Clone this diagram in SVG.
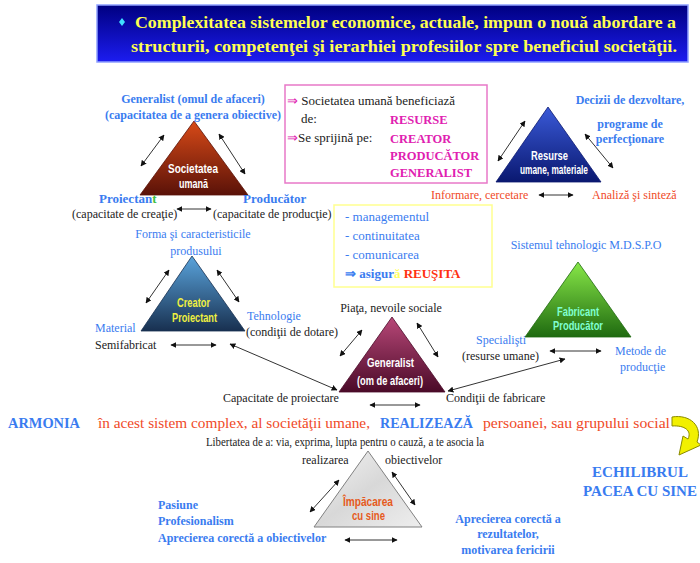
<svg xmlns="http://www.w3.org/2000/svg" width="700" height="563" viewBox="0 0 700 563">
<defs>
<marker id="ah" viewBox="0 0 10 10" refX="9" refY="5" markerWidth="6" markerHeight="6" orient="auto-start-reverse" markerUnits="userSpaceOnUse"><path d="M0,0 L10,5 L0,10 Z" fill="#111"/></marker>
<linearGradient id="gTitle" x1="0" y1="0" x2="0" y2="1"><stop offset="0" stop-color="#000080"/><stop offset="1" stop-color="#1c1cf0"/></linearGradient>
<linearGradient id="g1" x1="0" y1="0" x2="0" y2="1"><stop offset="0" stop-color="#d84a18"/><stop offset="1" stop-color="#5a1208"/></linearGradient>
<linearGradient id="g2" x1="0" y1="0" x2="0" y2="1"><stop offset="0" stop-color="#3a5ad8"/><stop offset="1" stop-color="#0a1870"/></linearGradient>
<linearGradient id="g3" x1="0" y1="0" x2="0" y2="1"><stop offset="0" stop-color="#5aa4dc"/><stop offset="1" stop-color="#183050"/></linearGradient>
<linearGradient id="g4" x1="0" y1="0" x2="0" y2="1"><stop offset="0" stop-color="#b84878"/><stop offset="1" stop-color="#4a0a28"/></linearGradient>
<linearGradient id="g5" x1="0" y1="0" x2="0" y2="1"><stop offset="0" stop-color="#88e848"/><stop offset="1" stop-color="#1f6a10"/></linearGradient>
<linearGradient id="g6" x1="0" y1="0" x2="1" y2="1"><stop offset="0" stop-color="#f4f4f4"/><stop offset="0.5" stop-color="#d8d8d8"/><stop offset="1" stop-color="#eeeeee"/></linearGradient>
<style>
.s{font-family:"Liberation Serif","Times New Roman",serif;}
.b{font-weight:bold;}
.blue{fill:#3a7cf0;}
.blk{fill:#222;}
.red{fill:#f04a28;}
.mag{fill:#e020b0;}
.tri{font-family:"Liberation Sans","Arial",sans-serif;font-weight:bold;font-size:13px;}
.c{stroke:#333;stroke-width:1;fill:none;marker-start:url(#ah);marker-end:url(#ah);}
.m{text-anchor:middle;}
</style>
</defs>
<rect width="700" height="563" fill="#ffffff"/>

<g id="title">
<rect x="97" y="5" width="591" height="57" fill="url(#gTitle)" stroke="#8fa0ff" stroke-width="1.5"/>
<path d="M122,18 L125,22 L122,26 L119,22 Z" fill="#40e0ff"/>
<text class="s b" x="135" y="28" font-size="17" fill="#ffff50" textLength="541" lengthAdjust="spacingAndGlyphs">Complexitatea sistemelor economice, actuale, impun o nouă abordare a</text>
<text class="s b" x="131" y="52" font-size="17" fill="#ffff50" textLength="546" lengthAdjust="spacingAndGlyphs">structurii, competenţei şi ierarhiei profesiilor spre beneficiul societăţii.</text>
</g>

<g id="connectors">
<line class="c" x1="164" y1="135" x2="141" y2="166"/>
<line class="c" x1="219" y1="134" x2="245" y2="174"/>
<line class="c" x1="177" y1="209" x2="211" y2="209"/>
<line class="c" x1="525" y1="121" x2="498" y2="161"/>
<line class="c" x1="585" y1="134" x2="613" y2="168"/>
<line class="c" x1="539" y1="195" x2="573" y2="195"/>
<line class="c" x1="169" y1="270" x2="146" y2="303"/>
<line class="c" x1="217" y1="270" x2="239" y2="302"/>
<line class="c" x1="171" y1="345" x2="216" y2="345"/>
<line class="c" x1="362" y1="330" x2="340" y2="356"/>
<line class="c" x1="417" y1="323" x2="438" y2="357"/>
<line class="c" x1="370" y1="405" x2="420" y2="405"/>
<line class="c" x1="337" y1="390" x2="230" y2="344"/>
<line class="c" x1="448" y1="391" x2="565" y2="359"/>
<line class="c" x1="550" y1="351" x2="601" y2="351"/>
<line class="c" x1="339" y1="480" x2="310" y2="512"/>
<line class="c" x1="392" y1="472" x2="415" y2="505"/>
<line class="c" x1="345" y1="540" x2="397" y2="540"/>
<path d="M672,417 C690,414 703,426 697,442 L701,445 L679,455 L683,436 L688,439 C692,431 685,425 672,426 Z" fill="#f2f000" stroke="#8a8a00" stroke-width="1"/>
</g>

<g id="n-societatea">
<polygon points="194,121 140,195 248,195" fill="url(#g1)" stroke="#5a1208" stroke-width="0.8"/>
<text class="tri" x="168" y="173" fill="#ffffff" textLength="50" lengthAdjust="spacingAndGlyphs">Societatea</text>
<text class="tri" x="179" y="188" fill="#ffffff" textLength="29" lengthAdjust="spacingAndGlyphs">umană</text>
<text class="s b blue m" x="193" y="103" font-size="12">Generalist (omul de afaceri)</text>
<text class="s b blue m" x="193" y="119" font-size="12">(capacitatea de a genera obiective)</text>
<text class="s b blue" x="99" y="203" font-size="13">Proiectan<tspan fill="#40c040">t</tspan></text>
<text class="s blk" x="72" y="218" font-size="12">(capacitate  de creaţie)</text>
<text class="s b blue" x="243" y="203" font-size="13">Producător</text>
<text class="s blk" x="213" y="218" font-size="12">(capacitate  de producţie)</text>
</g>

<g id="n-box-pink">
<rect x="285" y="85" width="202" height="98" fill="#ffffff" stroke="#e878c8" stroke-width="1.5"/>
<text class="s" x="287" y="105" font-size="13"><tspan class="mag">⇒</tspan><tspan class="blk"> Societatea umană  beneficiază</tspan></text>
<text class="s blk" x="301" y="123" font-size="13">de:</text>
<text class="s b mag" x="390" y="124" font-size="12.5">RESURSE</text>
<text class="s" x="287" y="142" font-size="13"><tspan class="mag">⇒</tspan><tspan class="blk">Se sprijină  pe:</tspan></text>
<text class="s b mag" x="390" y="143" font-size="12.5">CREATOR</text>
<text class="s b mag" x="390" y="160" font-size="12.5">PRODUCĂTOR</text>
<text class="s b mag" x="390" y="177" font-size="12.5">GENERALIST</text>
</g>

<g id="n-resurse">
<polygon points="548,107 496,182 601,182" fill="url(#g2)" stroke="#0a1870" stroke-width="0.8"/>
<text class="tri" x="531" y="160" fill="#ffffff" textLength="37" lengthAdjust="spacingAndGlyphs">Resurse</text>
<text class="tri" x="520" y="174" fill="#ffffff" textLength="68" lengthAdjust="spacingAndGlyphs">umane, materiale</text>
<text class="s b blue m" x="630" y="104" font-size="12">Decizii de dezvoltare,</text>
<text class="s b blue m" x="630" y="128" font-size="12">programe  de</text>
<text class="s b blue m" x="630" y="143" font-size="12">perfecţionare</text>
<text class="s red" x="431" y="199" font-size="12">Informare,  cercetare</text>
<text class="s red" x="592" y="199" font-size="12">Analiză  şi sinteză</text>
</g>

<g id="n-box-yellow">
<rect x="334" y="205" width="158" height="82" fill="#ffffff" stroke="#ffff90" stroke-width="1.5"/>
<text class="s blue" x="345" y="221" font-size="13">- managementul</text>
<text class="s blue" x="345" y="240" font-size="13">- continuitatea</text>
<text class="s blue" x="345" y="259" font-size="13">- comunicarea</text>
<text class="s b" x="345" y="278" font-size="13"><tspan class="blue">⇒  asigur</tspan><tspan fill="#ffff60">ă</tspan><tspan fill="#ff3010"> REUŞITA</tspan></text>
</g>

<g id="n-creator">
<polygon points="192,256 141,331 245,331" fill="url(#g3)" stroke="#183050" stroke-width="0.8"/>
<text class="tri" x="177" y="307" fill="#f0f040" textLength="33" lengthAdjust="spacingAndGlyphs">Creator</text>
<text class="tri" x="172" y="322" fill="#f0f040" textLength="45" lengthAdjust="spacingAndGlyphs">Proiectant</text>
<text class="s blue m" x="193" y="238" font-size="12">Forma şi caracteristicile</text>
<text class="s blue m" x="196" y="255" font-size="12">produsului</text>
<text class="s blue" x="95" y="332" font-size="12">Material</text>
<text class="s blk" x="95" y="349" font-size="12">Semifabricat</text>
<text class="s blue" x="247" y="320" font-size="12">Tehnologie</text>
<text class="s blk" x="246" y="336" font-size="12">(condiţii  de dotare)</text>
</g>

<g id="n-generalist">
<polygon points="392,317 339,392 445,392" fill="url(#g4)" stroke="#4a0a28" stroke-width="0.8"/>
<text class="tri" x="367" y="367" fill="#ffffff" textLength="47" lengthAdjust="spacingAndGlyphs">Generalist</text>
<text class="tri" x="357" y="385" fill="#ffffff" textLength="66" lengthAdjust="spacingAndGlyphs">(om de afaceri)</text>
<text class="s blk m" x="391" y="312" font-size="12">Piaţa, nevoile  sociale</text>
<text class="s blk" x="223" y="402" font-size="12">Capacitate  de proiectare</text>
<text class="s blk" x="446" y="402" font-size="12">Condiţii  de fabricare</text>
</g>

<g id="n-fabricant">
<polygon points="578,262 525,337 631,337" fill="url(#g5)" stroke="#1f6a10" stroke-width="0.8"/>
<text class="tri" x="557" y="316" fill="#80ffd0" textLength="42" lengthAdjust="spacingAndGlyphs">Fabricant</text>
<text class="tri" x="553" y="330" fill="#80ffd0" textLength="50" lengthAdjust="spacingAndGlyphs">Producător</text>
<text class="s blue m" x="586" y="249" font-size="12">Sistemul  tehnologic  M.D.S.P.O</text>
<text class="s blue" x="476" y="344" font-size="12">Specialişti</text>
<text class="s blk" x="462" y="360" font-size="12">(resurse  umane)</text>
<text class="s blue" x="615" y="355" font-size="12">Metode de</text>
<text class="s blue" x="620" y="371" font-size="12">producţie</text>
</g>

<g id="armonia">
<text class="s b blue" x="8" y="428" font-size="15" textLength="72" lengthAdjust="spacingAndGlyphs">ARMONIA</text>
<text class="s red" x="98" y="428" font-size="15" textLength="272" lengthAdjust="spacingAndGlyphs">în acest sistem complex, al societăţii umane,</text>
<text class="s b blue" x="380" y="428" font-size="15" textLength="93" lengthAdjust="spacingAndGlyphs">REALIZEAZĂ</text>
<text class="s red" x="483" y="428" font-size="15" textLength="187" lengthAdjust="spacingAndGlyphs">persoanei,  sau grupului social</text>
</g>

<g id="n-impacarea">
<polygon points="368,451 314,527 422,527" fill="url(#g6)" stroke="#808080" stroke-width="1"/>
<text class="tri" x="343" y="506" fill="#e65a20" font-size="14" textLength="50" lengthAdjust="spacingAndGlyphs">Împăcarea</text>
<text class="tri" x="352" y="520" fill="#e65a20" font-size="14" textLength="33" lengthAdjust="spacingAndGlyphs">cu sine</text>
<text class="s blk" x="206" y="446" font-size="12" textLength="278" lengthAdjust="spacingAndGlyphs">Libertatea  de a: via, exprima,  lupta pentru o cauză, a te asocia la</text>
<text class="s blk" x="302" y="464" font-size="12">realizarea</text>
<text class="s blk" x="385" y="464" font-size="12">obiectivelor</text>
<text class="s b blue" x="158" y="509" font-size="12">Pasiune</text>
<text class="s b blue" x="158" y="525" font-size="12">Profesionalism</text>
<text class="s b blue" x="158" y="542" font-size="12">Aprecierea corectă a obiectivelor</text>
<text class="s b blue m" x="508" y="523" font-size="12">Aprecierea corectă a</text>
<text class="s b blue m" x="508" y="538" font-size="12">rezultatelor,</text>
<text class="s b blue m" x="508" y="554" font-size="12">motivarea  fericirii</text>
</g>

<g id="n-echilibrul">
<text class="s b blue m" x="640" y="477" font-size="15">ECHILIBRUL</text>
<text class="s b blue m" x="640" y="496" font-size="15">PACEA CU SINE</text>
</g>
</svg>
